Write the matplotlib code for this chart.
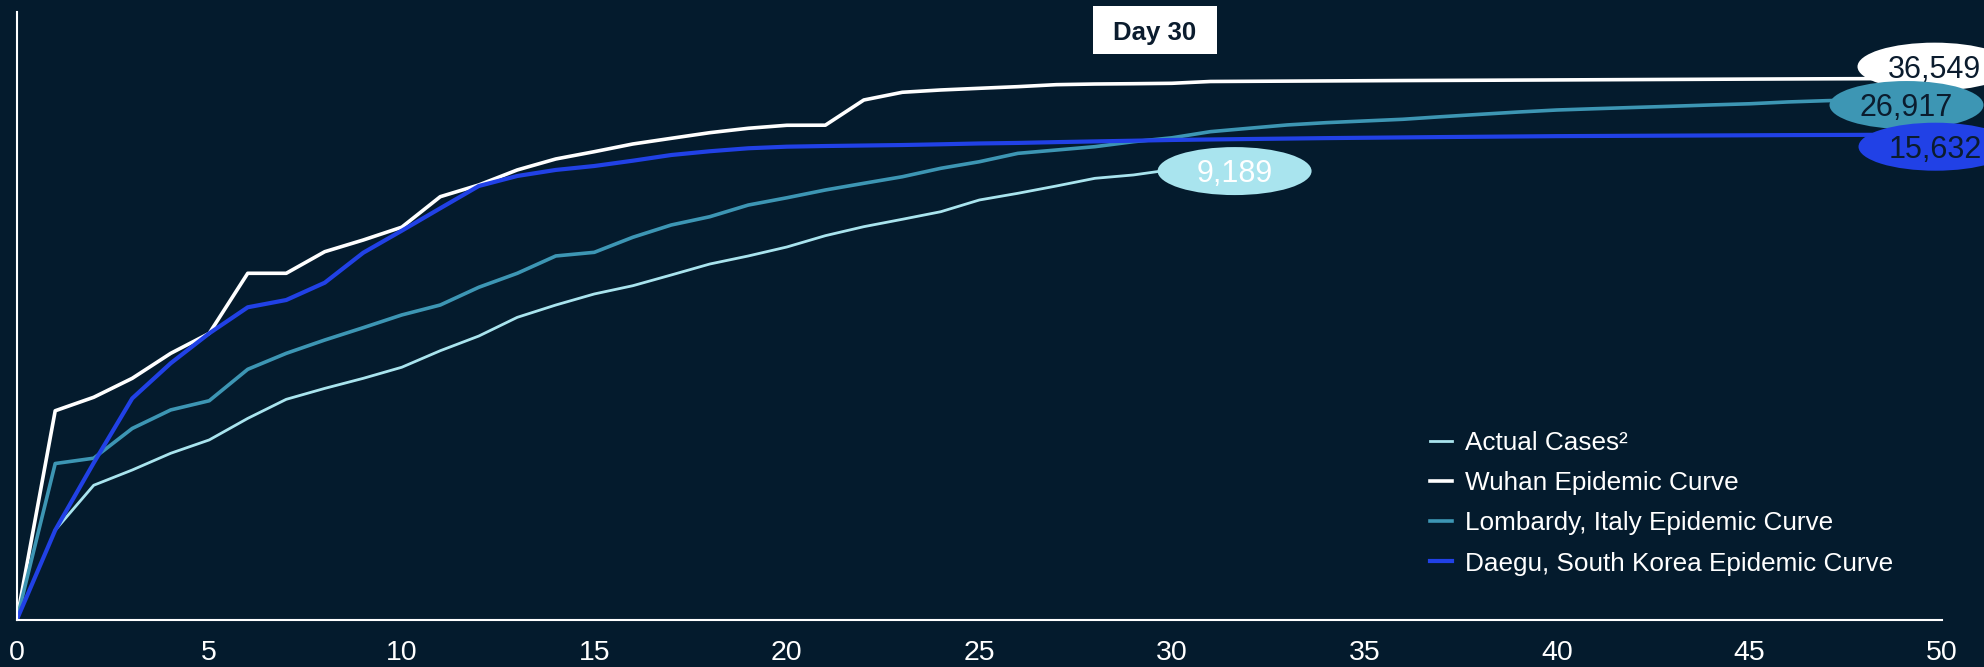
import matplotlib
matplotlib.use("Agg")
import matplotlib.pyplot as plt
from matplotlib import transforms
from matplotlib.patches import Ellipse, Rectangle

plt.rcParams['font.family'] = ['Liberation Sans', 'DejaVu Sans']

# cumulative cases by day since outbreak start
days = list(range(0, 51))
actual_days = list(range(1, 31))

actual_cases = [39, 77, 97, 125, 153, 212, 283, 334, 389, 460,
                591, 738, 980, 1181, 1396, 1582, 1862, 2198, 2483, 2844,
                3376, 3870, 4328, 4855, 5797, 6415, 7166, 8050, 8470, 9189]

wuhan = [10, 238, 292, 389, 568, 769, 1910, 1910, 2649, 3162,
         3840, 6095, 7278, 9140, 10790, 12050, 13540, 14760, 16070, 17180,
         17980, 18000, 26370, 29640, 30690, 31480, 32270, 33260, 33590, 33750,
         33960, 34900, 35000, 35100, 35200, 35300, 35400, 35480, 35560, 35650,
         35740, 35830, 35920, 36010, 36100, 36190, 36270, 36350, 36420, 36490,
         36549]

lombardy = [10, 107, 116, 182, 241, 277, 446, 568, 695, 838,
            1016, 1181, 1545, 1910, 2483, 2624, 3296, 3970, 4500, 5370,
            5995, 6745, 7465, 8245, 9370, 10350, 11750, 12360, 13000, 14020,
            14870, 16320, 17180, 18070, 18700, 19190, 19690, 20470, 21220, 21980,
            22660, 23110, 23550, 23990, 24460, 24900, 25600, 26100, 26500, 26750,
            26917]

daegu = [10, 39, 108, 287, 489, 769, 1141, 1274, 1656, 2608,
         3640, 5114, 7166, 8340, 9140, 9700, 10510, 11460, 12130, 12690,
         13000, 13130, 13230, 13330, 13480, 13650, 13760, 13930, 14080, 14230,
         14390, 14500, 14600, 14700, 14800, 14880, 14960, 15040, 15110, 15180,
         15250, 15290, 15330, 15370, 15410, 15450, 15490, 15520, 15550, 15590,
         15632]

bg = '#041b2d'
navy = '#0b1c2e'
c_actual = '#a9e4ee'
c_wuhan = '#ffffff'
c_lombardy = '#3d96b4'
c_daegu = '#2141e6'

fig = plt.figure(figsize=(19.84, 6.67), dpi=100, facecolor=bg)
ax = fig.add_axes([16.7 / 1984, 47 / 667, 1925.3 / 1984, 608 / 667])
ax.set_facecolor(bg)

ax.plot(actual_days, actual_cases, color=c_actual, lw=2.0, label='Actual Cases²')
ax.plot(days, wuhan, color=c_wuhan, lw=2.6, label='Wuhan Epidemic Curve')
ax.plot(days, lombardy, color=c_lombardy, lw=2.6, label='Lombardy, Italy Epidemic Curve')
ax.plot(days, daegu, color=c_daegu, lw=3.0, label='Daegu, South Korea Epidemic Curve')

# value bubbles at the end of each curve (offsets in pixels)
end_labels = [
    (50, wuhan[-1], c_wuhan, navy, -7.5, 11.8),
    (50, lombardy[-1], c_lombardy, navy, -35.5, -6.4),
    (50, daegu[-1], c_daegu, navy, -6.5, -12.2),
    (30, actual_cases[-1], c_actual, 'white', 62.7, -1.5),
]
for i, (x, y, fc, tc, dx, dy) in enumerate(end_labels):
    anchor = transforms.ScaledTranslation(x, y, ax.transData)
    ax.add_patch(Ellipse((dx, dy), 154, 48, transform=anchor, facecolor=fc,
                         edgecolor='none', clip_on=False, zorder=5 + 2 * i))
    ax.annotate(f'{y:,}', xy=(x, y), xytext=(dx, dy - 11), textcoords='offset pixels',
                ha='center', va='baseline', fontsize=22, color=tc,
                zorder=6 + 2 * i, annotation_clip=False)

# "Day 30" marker above the plot
day_trans = transforms.blended_transform_factory(ax.transData, fig.transFigure)
ax.add_patch(Rectangle((27.94, 1 - 54 / 667), 3.24, 48 / 667, transform=day_trans,
                       facecolor='white', edgecolor='none', clip_on=False, zorder=10))
ax.text(29.56, 1 - 40 / 667, 'Day 30', transform=day_trans, ha='center', va='baseline',
        fontsize=18.5, fontweight='bold', color=navy, zorder=11)

ax.set_yscale('log')
ax.set_xlim(0, 50)
ax.set_ylim(10, 100000)
ax.set_xticks(range(0, 51, 5))
ax.tick_params(axis='x', length=0, pad=14.5, labelsize=20.5, labelcolor='white')
ax.tick_params(axis='y', which='both', left=False, labelleft=False)

for side in ['top', 'right']:
    ax.spines[side].set_visible(False)
for side in ['left', 'bottom']:
    ax.spines[side].set_color('white')
    ax.spines[side].set_linewidth(1.5)

leg = ax.legend(loc='upper left', bbox_to_anchor=(1430 / 1984, 1 - 431 / 667),
                bbox_transform=fig.transFigure, frameon=False, fontsize=18.8,
                handlelength=0.85, handletextpad=0.5, labelspacing=0.62,
                borderpad=0, borderaxespad=0)
for t in leg.get_texts():
    t.set_color('white')

fig.savefig('out.png', dpi=100, facecolor=bg)
